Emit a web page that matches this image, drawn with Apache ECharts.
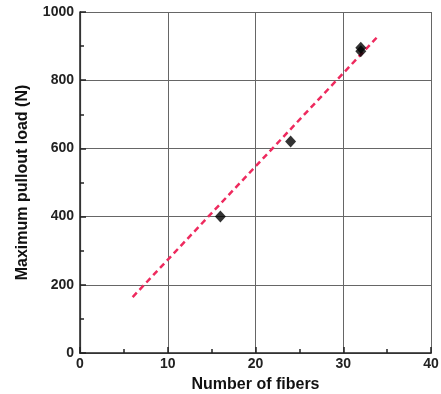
<!DOCTYPE html>
<html><head><meta charset="utf-8">
<script src="https://cdn.jsdelivr.net/npm/echarts@6/dist/echarts.min.js"></script>
<style>html,body{margin:0;padding:0;background:#fff}#c{width:441px;height:394px}</style>
</head><body><div id="c"></div>
<script>
var fibers = [16, 24, 32, 32];
var loads = [400, 620, 885, 895];
var fitX = [6, 34];
var fitY = [164, 930];
var xTicks = [0, 10, 20, 30, 40];
var yTicks = [0, 200, 400, 600, 800, 1000];

var chart = echarts.init(document.getElementById('c'), null, {renderer: 'canvas'});
var font = 'Liberation Sans, Arial, sans-serif';
chart.setOption({
  animation: false,
  backgroundColor: '#fff',
  grid: {left: 80, right: 10, top: 12, bottom: 41, containLabel: false, outerBoundsMode: 'none'},
  xAxis: [{
    type: 'value', min: 0, max: 40, interval: 10,
    name: 'Number of fibers', nameLocation: 'middle', nameGap: 24,
    nameTextStyle: {fontFamily: font, fontWeight: 'bold', fontSize: 16, color: '#111'},
    axisLine: {show: true, onZero: false, lineStyle: {color: '#222', width: 1.5}},
    axisTick: {show: true, inside: true, length: 6, lineStyle: {color: '#222', width: 1.5}},
    minorTick: {show: true, splitNumber: 2, length: 4, lineStyle: {color: '#222', width: 1.5}},
    axisLabel: {fontFamily: font, fontWeight: 'bold', fontSize: 14, color: '#222', margin: 4,
      formatter: function (v) { return xTicks.indexOf(v) >= 0 ? String(v) : ''; }},
    splitLine: {show: true, lineStyle: {color: '#666', width: 1}}
  }, {
    type: 'value', min: 0, max: 40, position: 'top',
    axisLine: {show: true, lineStyle: {color: '#333', width: 1.2}},
    axisTick: {show: false}, axisLabel: {show: false}, splitLine: {show: false}
  }],
  yAxis: [{
    type: 'value', min: 0, max: 1000, interval: 200,
    name: 'Maximum pullout load (N)', nameLocation: 'middle', nameGap: 49,
    nameTextStyle: {fontFamily: font, fontWeight: 'bold', fontSize: 16, color: '#111'},
    axisLine: {show: true, onZero: false, lineStyle: {color: '#222', width: 1.5}},
    axisTick: {show: true, inside: true, length: 6, lineStyle: {color: '#222', width: 1.5}},
    minorTick: {show: true, splitNumber: 2, length: 4, lineStyle: {color: '#222', width: 1.5}},
    axisLabel: {fontFamily: font, fontWeight: 'bold', fontSize: 14, color: '#222', margin: 6,
      formatter: function (v) { return yTicks.indexOf(v) >= 0 ? String(v) : ''; }},
    splitLine: {show: true, lineStyle: {color: '#666', width: 1}}
  }, {
    type: 'value', min: 0, max: 1000, position: 'right',
    axisLine: {show: true, lineStyle: {color: '#333', width: 1.2}},
    axisTick: {show: false}, axisLabel: {show: false}, splitLine: {show: false}
  }],
  series: [{
    type: 'line',
    data: fitX.map(function (x, i) { return [x, fitY[i]]; }),
    showSymbol: false, symbol: 'none',
    lineStyle: {color: '#ee2a5e', width: 2.5, type: [6, 4]},
    z: 2
  }, {
    type: 'scatter',
    data: fibers.map(function (x, i) { return [x, loads[i]]; }),
    symbol: 'diamond', symbolSize: [11, 12],
    itemStyle: {color: '#000'},
    z: 3
  }]
});
</script></body></html>
